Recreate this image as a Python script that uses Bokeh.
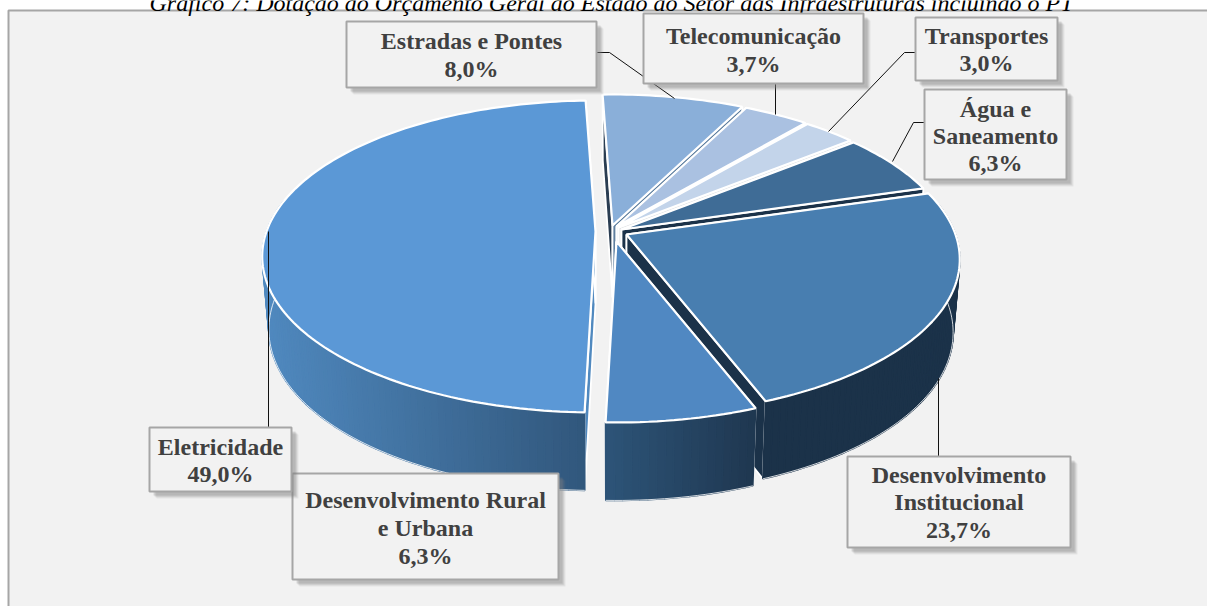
import math
from bokeh.plotting import figure
from bokeh.models import Range1d
from bokeh.core.properties import value
from bokeh.embed import file_html
from bokeh.resources import INLINE

# ---- data ----
title_text = "Gráfico 7: Dotação do Orçamento Geral do Estado ao Setor das Infraestruturas incluindo o PT"
names = ["Estradas e Pontes", "Telecomunicação", "Transportes", "Água e\nSaneamento",
         "Desenvolvimento\nInstitucional", "Desenvolvimento Rural\ne Urbana", "Eletricidade"]
shares = [8.0, 3.7, 3.0, 6.3, 23.7, 6.3, 49.0]
top_colors = ["#8aafd9", "#aac1e1", "#c3d4ea", "#3f6c96", "#487eb0", "#5088c2", "#5b98d6"]
wall_left = ["#2a3d52", "#dfe8f3", "#e4e6e8", "#1b3249", "#1b3249", "#2d5478", "#5089bf"]
wall_right = ["#5f7f9f", "#dfe8f3", "#e4e6e8", "#1b3249", "#1b3249", "#1f3750", "#31577c"]

# ---- layout of the exploded slices (centre of each slice on the page) ----
apex_x = [612, 616, 618, 621, 626, 616, 595]
apex_y = [225, 226, 227, 229, 234, 241, 231]
ROT = -2.0
RX, RY, K = 329.0, 152.0, 0.16
DROP, DROP_V, SHRINK = 72.0, 6.0, 0.98

# ---- label boxes: left, top, right, bottom; then line centre y ----
boxes = [(346, 21, 596, 87), (643, 13, 863, 83), (915, 17, 1057, 80), (924, 89, 1066, 179),
         (847, 456, 1070, 547), (292, 473, 558, 579), (149, 427, 291, 491)]
line_y = [[40, 68], [35, 63], [35, 62], [108, 135, 162], [474, 501, 529], [499, 527, 555], [446, 473]]
leaders = [([596, 609, 674], [52, 52, 98]), ([775, 775], [83, 114]), ([915, 904, 828], [52, 52, 131]),
           ([924, 913, 892], [122, 122, 161]), ([938, 938], [456, 378]), None, ([268, 268], [427, 231])]


def hex2rgb(h):
    return [int(h[i:i + 2], 16) for i in (1, 3, 5)]


def mix(a, b, t):
    ca, cb = hex2rgb(a), hex2rgb(b)
    return "#%02x%02x%02x" % tuple(round(x + (y - x) * t) for x, y in zip(ca, cb))


def top_pt(i, deg):
    th = math.radians(deg)
    u, v = math.sin(th), math.cos(th)
    s = 1 / (1 + K * v)
    return apex_x[i] + RX * u * s, apex_y[i] - RY * v * s, v


def low_pt(i, x, y, v):
    return apex_x[i] + (x - apex_x[i]) * SHRINK, y + DROP - DROP_V * v


p = figure(width=1207, height=606, output_backend="svg", toolbar_location=None,
           x_range=Range1d(0, 1207), y_range=Range1d(606, 0),
           min_border=0, min_border_left=0, min_border_right=0, min_border_top=0, min_border_bottom=0,
           background_fill_color="white", border_fill_color="white", outline_line_color=None,
           margin=(0, 0, 0, 0))
p.xaxis.visible = False
p.yaxis.visible = False
p.grid.visible = False

# frame
p.quad(left=[8], right=[1230], top=[10], bottom=[640], fill_color="#f2f2f2", line_color="#a6a6a6", line_width=2)
p.text(x=[611], y=[2.5], text=[title_text], text_font=value("Liberation Serif"), text_font_style="italic",
       text_font_size="24px", text_color="#000000", text_align="center", text_baseline="alphabetic")

# slices: angles from the shares
starts, acc = [], ROT
for s in shares:
    starts.append(acc)
    acc += s * 3.6

order = [0, 1, 2, 3, 6, 4, 5]
for i in order:
    a0 = starts[i]
    a1 = a0 + shares[i] * 3.6
    n = max(8, int(shares[i] * 3))
    angs = [a0 + (a1 - a0) * j / n for j in range(n + 1)]
    rim = [top_pt(i, a) for a in angs]
    low = [low_pt(i, *r) for r in rim]
    ax, ay = apex_x[i], apex_y[i]
    bx, by = ax, ay + DROP

    # radial walls
    xs = [[ax, rim[0][0], low[0][0], bx], [ax, rim[-1][0], low[-1][0], bx]]
    ys = [[ay, rim[0][1], low[0][1], by], [ay, rim[-1][1], low[-1][1], by]]
    cols = [wall_left[i], wall_right[i]] if i != 6 else [wall_left[i], wall_left[i]]
    p.patches(xs, ys, fill_color=cols, line_color="white", line_width=1.8)

    # curved wall, in narrow strips so that it can shade along x (front of the slice only)
    front = [r[0] for r in rim if r[2] < 0.2]
    if front:
        xmin, xmax = min(front), max(front)
        sx, sy, sc = [], [], []
        for j in range(n):
            if rim[j][2] < 0.2 or rim[j + 1][2] < 0.2:
                sx.append([rim[j][0], rim[j + 1][0], low[j + 1][0], low[j][0]])
                sy.append([rim[j][1], rim[j + 1][1], low[j + 1][1], low[j][1]])
                t = (0.5 * (rim[j][0] + rim[j + 1][0]) - xmin) / max(1, xmax - xmin)
                sc.append(mix(wall_left[i], wall_right[i], min(1, max(0, t))))
        p.patches(sx, sy, fill_color=sc, line_color=sc, line_width=1.6)
        vis = [l for l, r in zip(low, rim) if r[2] < 0.2]
        p.line([l[0] for l in vis], [l[1] for l in vis], line_color="white", line_width=1, line_alpha=0.8)

    # top face
    tx = [ax] + [r[0] for r in rim]
    ty = [ay] + [r[1] for r in rim]
    p.patch(tx, ty, fill_color=top_colors[i], line_color="white", line_width=2.2)

# leaders
for ld in leaders:
    if ld:
        p.line(ld[0], ld[1], line_color="#111111", line_width=1)

# label boxes
for i, (l, t, r, b) in enumerate(boxes):
    for off, al in [(7, 0.10), (6, 0.14), (5, 0.18), (4, 0.22)]:
        p.quad(left=[l + off], right=[r + off], top=[t + off], bottom=[b + off], fill_color="#7f7f7f",
               fill_alpha=al, line_color=None)
    p.quad(left=[l], right=[r], top=[t], bottom=[b], fill_color="#f2f2f2", line_color="#a6a6a6", line_width=2)
    lines = names[i].split("\n") + [f"{shares[i]:.1f}".replace(".", ",") + "%"]
    p.text(x=[(l + r) / 2] * len(lines), y=line_y[i], text=lines, text_font=value("Liberation Serif"),
           text_font_style="bold", text_font_size="24px", text_color="#404040",
           text_align="center", text_baseline="middle")

open("out.html", "w").write(file_html(p, INLINE))
